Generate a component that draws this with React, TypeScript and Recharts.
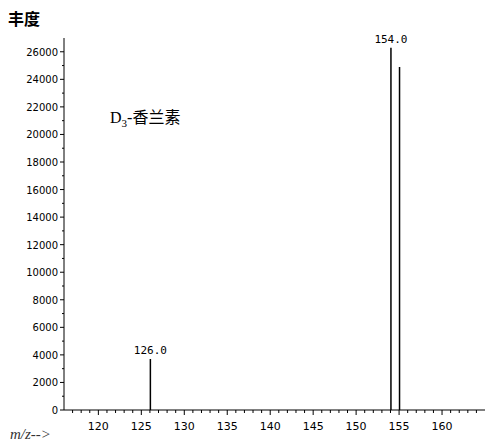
import { BarChart, Bar, XAxis, YAxis, LabelList } from "recharts";

const mzValues = [126, 154, 155];
const abundance = [3700, 26300, 24900];
const peakLabels = ["126.0", "154.0", ""];
const xTicks = Array.from({ length: 48 }, (_, i) => 117 + i);
const yTicks = Array.from({ length: 27 }, (_, i) => i * 1000);

const data = mzValues.map((mz, i) => ({ mz, value: abundance[i], label: peakLabels[i] }));

const XTick = ({ x, y, payload }: any) => {
  const major = payload.value % 5 === 0;
  return (
    <g>
      <line x1={x} x2={x} y1={y - 8} y2={y - 8 + (major ? 5 : 3)} stroke="#000" />
      {major && (
        <text x={x} y={y + 12} textAnchor="middle" fontSize={11} fontFamily="DejaVu Sans" fill="#000">
          {payload.value}
        </text>
      )}
    </g>
  );
};

const YTick = ({ x, y, payload }: any) => {
  const major = payload.value % 2000 === 0;
  return (
    <g>
      <line x1={x + 8} x2={x + 8 - (major ? 4 : 2)} y1={y} y2={y} stroke="#000" />
      {major && (
        <text x={x + 2} y={y + 4} textAnchor="end" fontSize={10} fontFamily="DejaVu Sans" fill="#000">
          {payload.value}
        </text>
      )}
    </g>
  );
};

export default function App() {
  return (
    <div style={{ position: "absolute", left: 0, top: 0, width: 493, height: 447, background: "#fff" }}>
      <BarChart width={493} height={447} data={data} margin={{ top: 38, right: 8, bottom: 17, left: 0 }}>
        <XAxis dataKey="mz" type="number" domain={[116, 165]} ticks={xTicks} interval={0} height={20}
          tickLine={false} tick={<XTick />} stroke="#000" allowDataOverflow />
        <YAxis type="number" domain={[0, 27000]} ticks={yTicks} interval={0} width={64}
          tickLine={false} tick={<YTick />} stroke="#000" />
        <Bar dataKey="value" fill="#000" barSize={1.5} isAnimationActive={false}>
          <LabelList dataKey="label" position="top" fontSize={11} fontFamily="DejaVu Sans Mono" fill="#000" />
        </Bar>
      </BarChart>
      <div style={{ position: "absolute", left: 8, top: 6, fontSize: 16, fontWeight: "bold", fontFamily: "Noto Sans CJK SC" }}>丰度</div>
      <div style={{ position: "absolute", left: 110, top: 104, fontSize: 16, fontFamily: "Noto Sans CJK SC" }}>
        <span style={{ fontFamily: "Liberation Serif" }}>D<sub style={{ fontSize: 11 }}>3</sub>-</span>香兰素
      </div>
      <div style={{ position: "absolute", left: 10, top: 426, fontSize: 15, fontStyle: "italic", fontFamily: "Liberation Serif", color: "#333" }}>m/z--&gt;</div>
    </div>
  );
}
